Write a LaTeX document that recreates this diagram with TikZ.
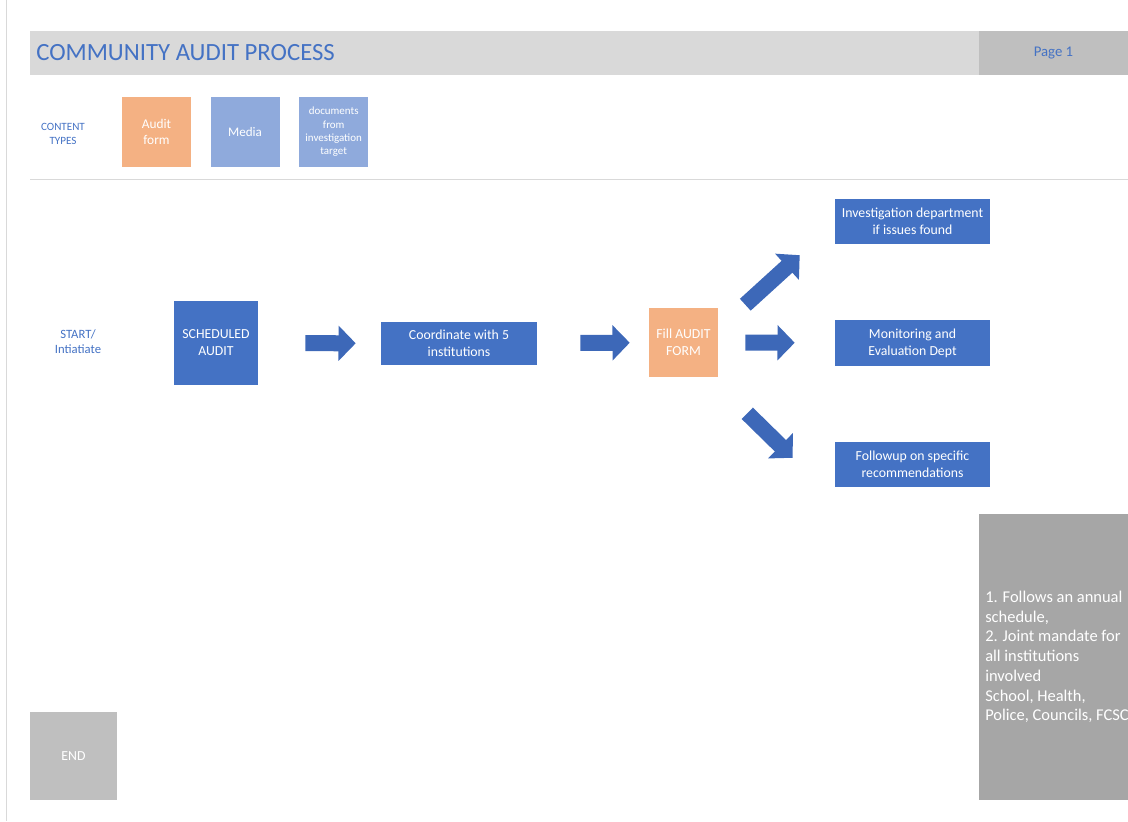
\documentclass[tikz,border=0pt]{standalone}
\usepackage{fontspec}
\setmainfont{Carlito}
\usetikzlibrary{arrows.meta, positioning}

\definecolor{offblue}{HTML}{4472C4}
\definecolor{arrowblue}{HTML}{3D68B8}
\definecolor{paleblue}{HTML}{8FAADC}
\definecolor{peach}{HTML}{F4B183}
\definecolor{barlight}{HTML}{D9D9D9}
\definecolor{barmid}{HTML}{BFBFBF}
\definecolor{bardark}{HTML}{A6A6A6}

\begin{document}
\begin{tikzpicture}[x=0.025cm,y=-0.025cm,
  box/.style={rectangle,inner sep=2pt,align=center,text=white,font=\fontsize{9.8}{12}\selectfont},
  stepbox/.style={box,fill=offblue,minimum width=3.875cm,minimum height=1.125cm},
  typebox/.style={box,minimum width=1.725cm,minimum height=1.75cm},
  blockarrow/.style={draw=arrowblue,line width=0.4cm,-{Triangle[width=0.86cm,length=0.43cm]}},
  greytext/.style={text=offblue,align=center}]
  \useasboundingbox (0,0) rectangle (1128,821);
  \draw[gray!30] (6,0) -- (6,821);

  % header
  \node[rectangle,fill=barlight,minimum width=23.725cm,minimum height=1.1cm,inner sep=0] (bar) at (504.5,53) {};
  \node[rectangle,fill=barmid,minimum width=3.725cm,minimum height=1.1cm,inner sep=0] (pagebar) at (1053.5,53) {};
  \node[anchor=west,text=offblue,font=\fontsize{17.6}{20}\selectfont,inner sep=0] (title) at (36,53) {COMMUNITY AUDIT PROCESS};
  \node[text=offblue,font=\fontsize{10.5}{12}\selectfont] (page) at (pagebar) {Page 1};

  % content types
  \node[greytext,font=\fontsize{7.9}{9.5}\selectfont] (types) at (63,134) {CONTENT\\TYPES};
  \node[typebox,fill=peach,font=\fontsize{9.5}{11.5}\selectfont] (auditform) at (156.5,132) {Audit\\form};
  \node[typebox,fill=paleblue,font=\fontsize{9.3}{11}\selectfont] (media) [right=0.475cm of auditform] {Media};
  \node[typebox,fill=paleblue,font=\fontsize{7.8}{9.5}\selectfont] (docs) [right=0.475cm of media] {documents\\from\\investigation\\target};
  \draw[gray!30] (30,179) -- (1128,179);

  % process
  \node[greytext,font=\fontsize{9}{10.5}\selectfont] (start) at (78,342) {START/\\Intiatiate};
  \node[box,fill=offblue,minimum width=2.1cm,minimum height=2.1cm] (sched) at (216,343) {SCHEDULED\\AUDIT};
  \node[stepbox,minimum width=3.9cm,minimum height=1.075cm] (coord) at (459,343.5) {Coordinate with 5\\institutions};
  \node[box,fill=peach,minimum width=1.725cm,minimum height=1.725cm] (fill) at (683.5,342.5) {Fill AUDIT\\FORM};
  \node[stepbox] (mon) at (912.5,343) {Monitoring and\\Evaluation Dept};
  \node[stepbox] (inv) [above=1.9cm of mon] {Investigation department\\if issues found};
  \node[stepbox] (fol) [below=1.9cm of mon] {Followup on specific\\recommendations};

  \draw[blockarrow,shorten <=1.175cm,shorten >=0.625cm] (sched) -- (coord);
  \draw[blockarrow,shorten <=1.075cm,shorten >=0.475cm] (coord) -- (fill);
  \draw[blockarrow,shorten <=0.675cm,shorten >=1cm] (fill) -- (mon);
  \draw[blockarrow] ([shift={(27,-3)}]fill.north east) -- ([shift={(-35,11)}]inv.south west);
  \draw[blockarrow] ([shift={(29,36)}]fill.south east) -- ([shift={(-42,16)}]fol.north west);

  % notes and end
  \node[rectangle,fill=bardark,minimum width=3.725cm,minimum height=7.15cm,inner sep=0] (notes) at (1053.5,657) {};
  \node[anchor=west,align=left,text=white,inner sep=0,font=\fontsize{11.7}{14}\selectfont] (notetext) at (985,657)
    {1. Follows an annual\\schedule,\\2. Joint mandate for\\all institutions\\involved\\School, Health,\\Police, Councils, FCSC};
  \node[box,fill=barmid,minimum width=2.175cm,minimum height=2.2cm] (end) at (73.5,756) {END};
\end{tikzpicture}
\end{document}
